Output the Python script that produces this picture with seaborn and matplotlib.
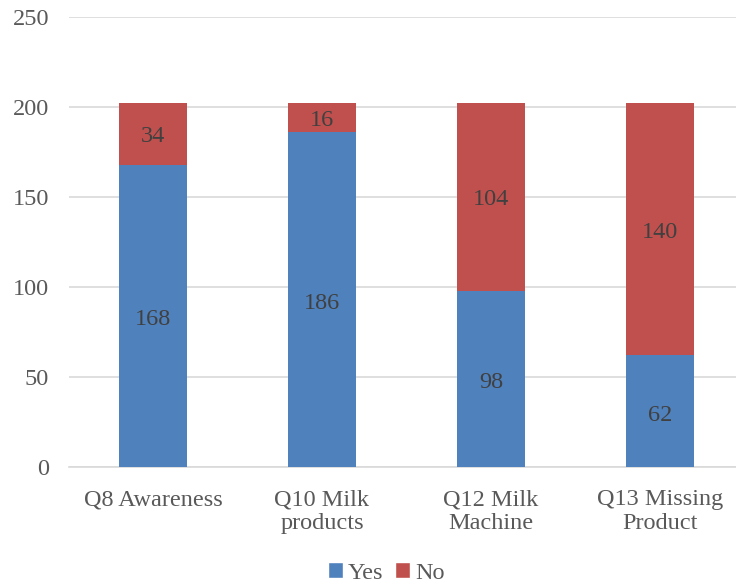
import matplotlib
matplotlib.use("Agg")
import matplotlib.pyplot as plt
import seaborn as sns
import pandas as pd
from matplotlib.patches import Patch

categories = ["Q8 Awareness", "Q10 Milk\nproducts", "Q12 Milk\nMachine", "Q13 Missing\nProduct"]
yes_values = [168, 186, 98, 62]
no_values = [34, 16, 104, 140]
y_ticks = [0, 50, 100, 150, 200, 250]

BLUE = "#4F81BD"
RED = "#C0504D"
FS = 17.5

sns.set_theme(style="white")
plt.rcParams["font.family"] = ["Liberation Serif", "DejaVu Serif"]

df = pd.DataFrame({"cat": categories, "yes": yes_values, "no": no_values})

fig = plt.figure(figsize=(7.36, 5.87), dpi=100)
ax = fig.add_axes([68.5 / 736, (587 - 467) / 587, 676 / 736, 450 / 587])

sns.barplot(data=df, x="cat", y="yes", color=BLUE, width=0.4, ax=ax,
            saturation=1, linewidth=0, zorder=3)
sns.barplot(data=df, x="cat", y="no", color=RED, width=0.4, ax=ax,
            saturation=1, linewidth=0, bottom=df["yes"].values, zorder=3)

for i, (y, n) in enumerate(zip(yes_values, no_values)):
    ax.annotate(str(y), (i, y / 2), xytext=(0, -3), textcoords="offset points",
                ha="center", va="center", fontsize=FS, color="#404040", zorder=4)
    ax.annotate(str(n), (i, y + n / 2), xytext=(0, -2), textcoords="offset points",
                ha="center", va="center", fontsize=FS, color="#404040", zorder=4)

ax.set_ylim(0, 250)
ax.set_xlim(-0.5, 3.5)
ax.set_yticks(y_ticks)
ax.yaxis.grid(True, color="#D9D9D9", linewidth=1.2, zorder=0)
ax.set_axisbelow(True)
for s in ["left", "right", "top"]:
    ax.spines[s].set_visible(False)
ax.spines["bottom"].set_color("#D9D9D9")
ax.spines["bottom"].set_linewidth(1.2)
ax.tick_params(axis="both", length=0, labelsize=FS, colors="#595959")
ax.tick_params(axis="y", pad=14)
ax.tick_params(axis="x", pad=16)
ax.set_xlabel("")
ax.set_ylabel("")
for lab in ax.get_xticklabels():
    lab.set_linespacing(1.15)

handles = [Patch(facecolor=BLUE, label="Yes"), Patch(facecolor=RED, label="No")]
fig.legend(handles=handles, loc="center", bbox_to_anchor=(0.525, 1 - 573 / 587), ncol=2,
           frameon=False, fontsize=FS, handlelength=0.6, handleheight=0.6,
           handletextpad=0.2, columnspacing=0.5, labelcolor="#595959")

fig.savefig("out.png", dpi=100)
